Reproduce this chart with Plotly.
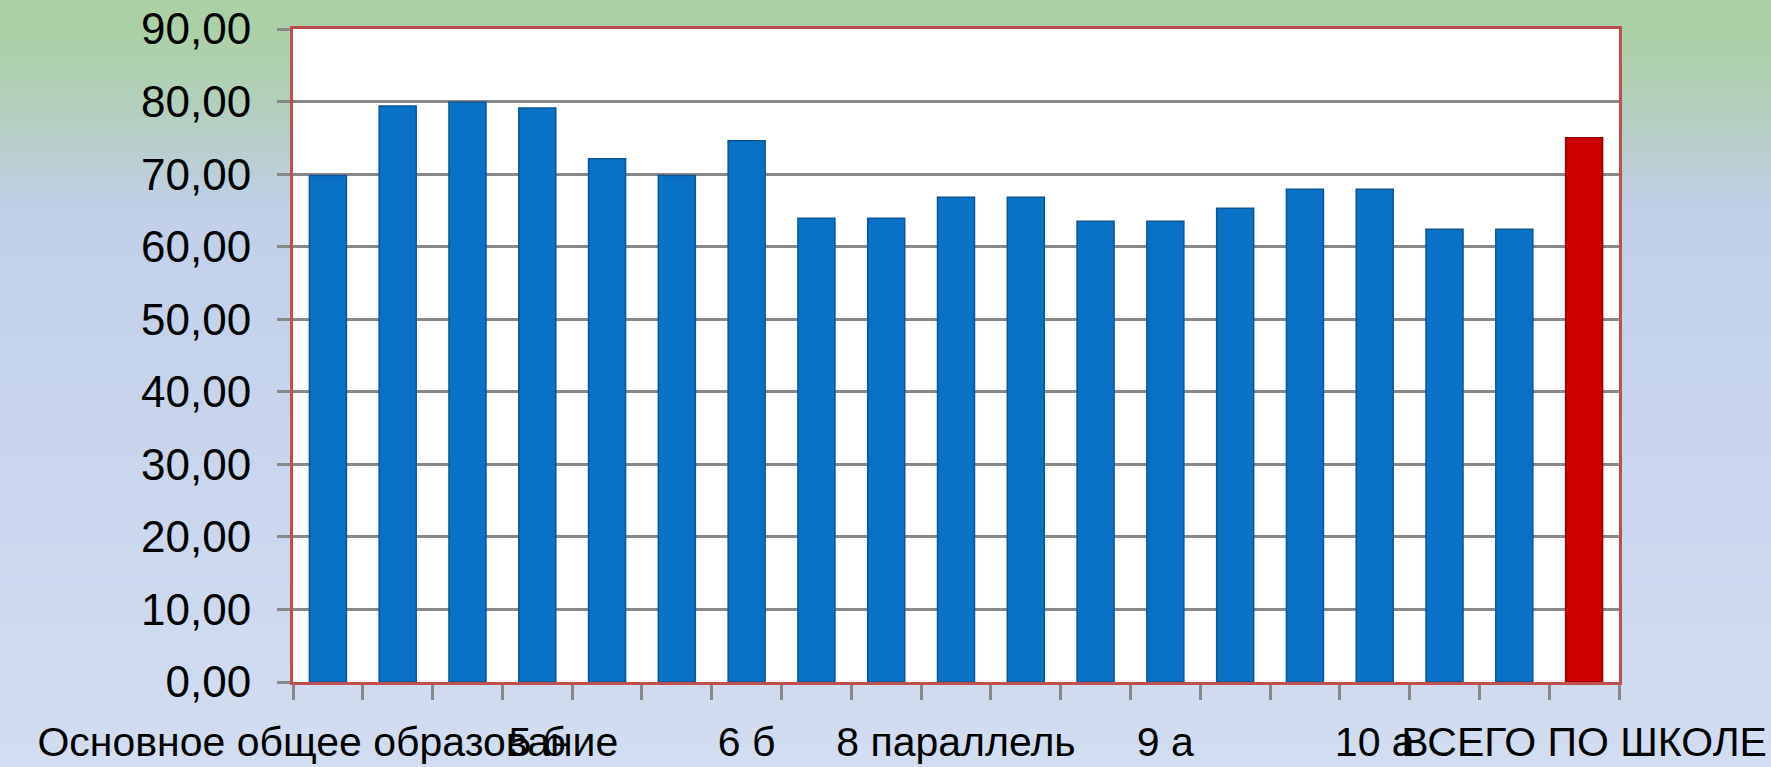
import plotly.graph_objects as go

categories = ["Основное общее образование", "5 параллель", "5 а", "5 б",
              "6 параллель", "6 а", "6 б", "7 параллель", "7 а",
              "8 параллель", "8 а", "9 параллель", "9 а",
              "Среднее общее образование", "10 параллель", "10 а",
              "11 параллель", "11 а", "ВСЕГО ПО ШКОЛЕ"]
values = [69.8, 79.4, 79.9, 79.1, 72.1, 69.8, 74.6, 63.9, 63.9,
          66.8, 66.8, 63.5, 63.5, 65.3, 67.9, 67.9, 62.4, 62.4, 75.0]
label_every = 3
y_ticks = [0, 10, 20, 30, 40, 50, 60, 70, 80, 90]

W, H = 1771, 767
ML, MR, MT, MB = 293, 152, 29, 85
FONT = "Liberation Sans, Arial, sans-serif"

xpos = list(range(len(categories)))
colors = ["#0A72C6"] * (len(categories) - 1) + ["#CC0000"]
lines = ["#0A5596"] * (len(categories) - 1) + ["#990000"]

fig = go.Figure()
fig.add_trace(go.Bar(
    x=xpos, y=values, width=0.53,
    marker=dict(color=colors, line=dict(color=lines, width=1.5)),
    hoverinfo="skip",
))

# background gradient (paper coords)
pw = W - ML - MR
ph = H - MT - MB
stops = [(0, (170, 208, 163)), (60, (173, 208, 172)), (130, (182, 207, 198)),
         (200, (192, 207, 228)), (235, (194, 208, 234)), (767, (210, 221, 241))]
def col_at(py):
    for (a, ca), (b, cb) in zip(stops[:-1], stops[1:]):
        if a <= py <= b:
            t = (py - a) / (b - a)
            return "rgb(%d,%d,%d)" % tuple(round(ca[i] + (cb[i] - ca[i]) * t) for i in range(3))
    return "rgb(%d,%d,%d)" % stops[-1][1]
nstrip = 100
shapes = []
for k in range(nstrip):
    py0 = H * k / nstrip
    py1 = H * (k + 1) / nstrip + 1
    shapes.append(dict(
        type="rect", xref="paper", yref="paper", layer="below",
        x0=-ML / pw - 0.01, x1=1 + MR / pw + 0.01,
        y0=1 + (MT - py1) / ph, y1=1 + (MT - py0) / ph,
        fillcolor=col_at((py0 + py1) / 2), line=dict(width=0),
    ))
# white plot area on top of gradient
shapes.append(dict(type="rect", xref="paper", yref="paper", layer="below",
                   x0=0, x1=1, y0=0, y1=1, fillcolor="white", line=dict(width=0)))

tickvals = xpos[::label_every]
ticktext = categories[::label_every]

fig.update_layout(
    width=W, height=H,
    margin=dict(l=ML, r=MR, t=MT, b=MB, pad=0, autoexpand=False),
    paper_bgcolor="rgb(200,212,230)",
    plot_bgcolor="white",
    separators=",.",
    showlegend=False,
    shapes=shapes,
    font=dict(family=FONT, size=44, color="black"),
    bargap=0.47,
)
fig.update_xaxes(
    range=[-0.5, len(categories) - 0.5], automargin=False,
    tickmode="array", tickvals=tickvals, ticktext=ticktext,
    tickangle=0, ticks="", ticklabelstandoff=22,
    ticklabeloverflow="allow",
    tickfont=dict(family=FONT, size=41, color="black"),
    showgrid=False, zeroline=False,
    showline=True, linecolor="#C0504D", linewidth=3, mirror=True,
    minor=dict(tickmode="array",
               tickvals=[p - 0.5 for p in xpos] + [xpos[-1] + 0.5],
               ticks="outside", ticklen=15, tickwidth=2.5, tickcolor="#888888",
               showgrid=False),
)
fig.update_yaxes(
    range=[0, 90], tickmode="array", tickvals=y_ticks, tickformat=".2f",
    automargin=False,
    ticks="outside", ticklen=13, tickwidth=2.5, tickcolor="#888888",
    ticklabelstandoff=17,
    tickfont=dict(family=FONT, size=44, color="black"),
    showgrid=True, gridcolor="#888888", gridwidth=2.5,
    zeroline=False,
    showline=True, linecolor="#C0504D", linewidth=3, mirror=True,
)

fig.write_html(
    "out.html",
    config={"displayModeBar": False},
    post_script="document.body.style.margin='0';document.body.style.overflow='hidden';",
)
